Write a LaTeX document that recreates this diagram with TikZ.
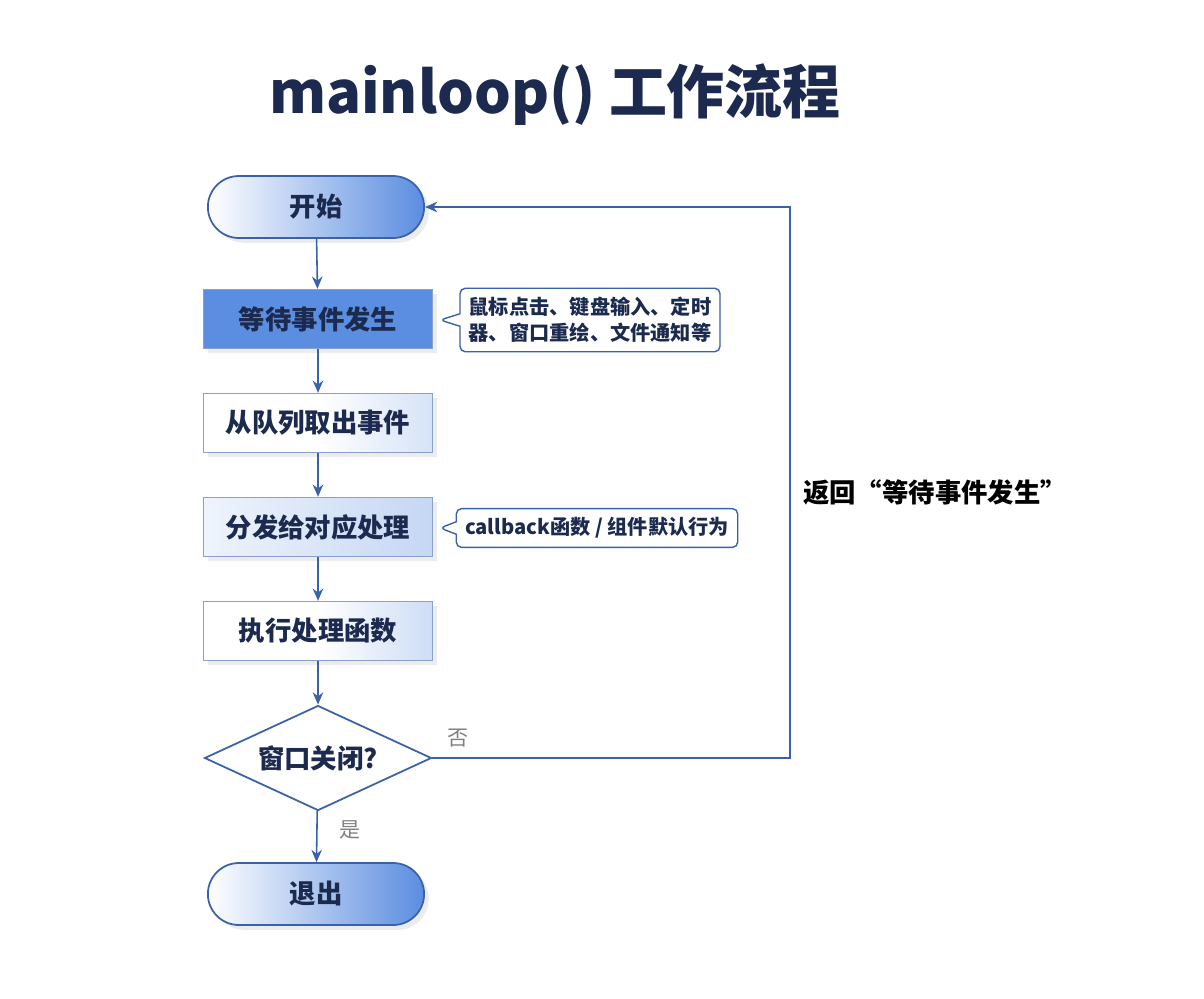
\documentclass[tikz,border=0pt]{standalone}
\usepackage{fontspec}
\setmainfont{Noto Sans CJK SC}
\usetikzlibrary{shapes.geometric,shapes.misc,shapes.callouts,arrows.meta,shadows}
\definecolor{navy}{HTML}{1B2A4E}
\definecolor{ln}{HTML}{3A62A8}
\definecolor{bl}{HTML}{5B8DE0}
\begin{document}
\begin{tikzpicture}[x=0.02cm,y=-0.02cm,
  every node/.style={text=navy},
  pill/.style={rounded rectangle,draw=ln,line width=1pt,minimum width=4.56cm,minimum height=1.24cm,left color=white,right color=bl,font=\fontsize{15}{18}\selectfont\bfseries,drop shadow={opacity=0.15}},
  box/.style={rectangle,draw=ln!60,line width=0.8pt,minimum width=4.58cm,minimum height=1.18cm,font=\fontsize{15}{18}\selectfont\bfseries,drop shadow={opacity=0.15}},
  call/.style={rectangle callout,rounded corners=3pt,draw=ln,line width=0.8pt,fill=white,font=\fontsize{11.5}{15}\selectfont\bfseries,align=left,inner sep=5pt},
  arr/.style={-{Stealth[length=7pt,width=6pt]},draw=ln,line width=0.9pt},
  lbl/.style={text=gray,font=\fontsize{12}{14}\selectfont}]
\useasboundingbox (0,0) rectangle (1204,998);
\node[font=\fontsize{33}{38}\selectfont\bfseries] (title) at (555,95) {mainloop() 工作流程};
\node[pill,minimum width=4.56cm] (start) at (316,207) {开始};
\node[box,fill=bl] (wait) at (318,319) {等待事件发生};
\node[box,left color=white,right color=bl!25,middle color=white] (take) at (318,423) {从队列取出事件};
\node[box,left color=bl!10,right color=bl!35] (disp) at (318,527) {分发给对应处理};
\node[box,left color=white,right color=bl!30,middle color=white] (exec) at (318,631) {执行处理函数};
\node[diamond,draw=ln,line width=1pt,fill=white,minimum width=4.54cm,minimum height=2.1cm,aspect=2.2,inner sep=0pt,font=\fontsize{15}{18}\selectfont\bfseries] (close) at (318,758) {窗口关闭?};
\node[pill] (quit) at (316,894) {退出};
\node[call,callout absolute pointer={(440,320)}] (c1) at (590,320) {鼠标点击、键盘输入、定时\\器、窗口重绘、文件通知等};
\node[call,callout absolute pointer={(440,528)}] (c2) at (597,528) {callback函数 / 组件默认行为};
\draw[arr] (start) -- (wait);
\draw[arr] (wait) -- (take);
\draw[arr] (take) -- (disp);
\draw[arr] (disp) -- (exec);
\draw[arr] (exec) -- (close);
\draw[arr] (close) -- (quit);
\coordinate (r1) at (790,758);
\coordinate (r2) at (790,207);
\draw[arr,line width=1.1pt] (close.east) -- (r1) -- (r2) -- (start.east);
\node[lbl] (no) at (458,738) {否};
\node[lbl] (yes) at (350,830) {是};
\node[font=\fontsize{15}{18}\selectfont\bfseries,text=black] (back) at (935,492) {返回“等待事件发生”};
\end{tikzpicture}
\end{document}
